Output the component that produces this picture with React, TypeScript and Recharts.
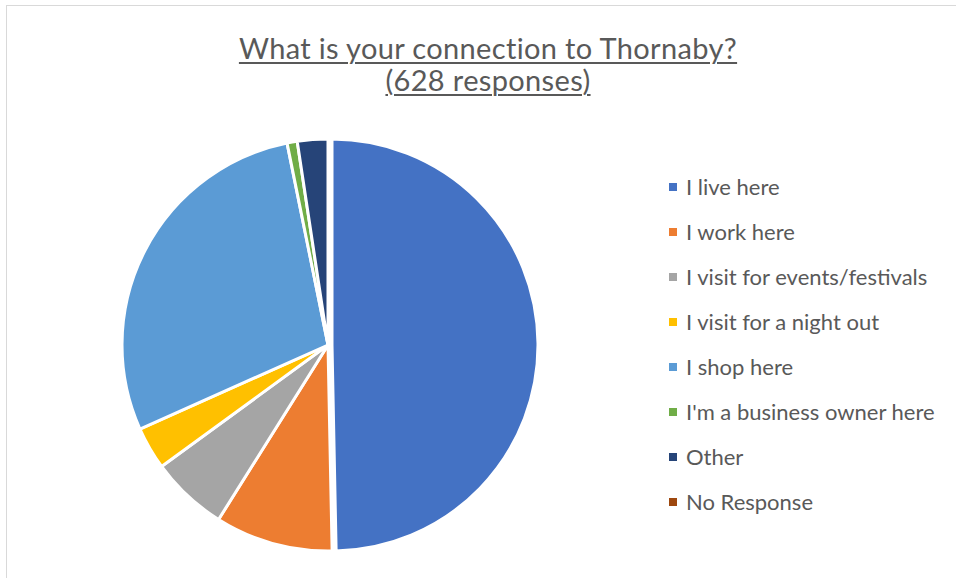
import React from "react";
import { PieChart, Pie, Cell, Legend } from "recharts";

const categories = [
  "I live here",
  "I work here",
  "I visit for events/festivals",
  "I visit for a night out",
  "I shop here",
  "I'm a business owner here",
  "Other",
  "No Response",
];
const responses = [312, 58, 38, 21, 179, 5, 15, 0];
const colors = [
  "#4472C4",
  "#ED7D31",
  "#A5A5A5",
  "#FFC000",
  "#5B9BD5",
  "#70AD47",
  "#264478",
  "#9E480E",
];
const titleLines = ["What is your connection to Thornaby?", "(628 responses)"];

const data = categories.map((name, i) => ({ name, value: responses[i] }));

const FONT = "Lato, 'Open Sans', sans-serif";
const TEXT = "#595959";

const LegendList = () => (
  <div style={{ fontFamily: FONT, fontSize: 22, color: TEXT }}>
    {categories.map((name, i) => (
      <div
        key={name}
        style={{ height: 45, display: "flex", alignItems: "center" }}
      >
        <span
          style={{
            width: 8,
            height: 8,
            background: colors[i],
            marginRight: 9,
            display: "inline-block",
          }}
        />
        <span>{name}</span>
      </div>
    ))}
  </div>
);

export default function App() {
  return (
    <div
      style={{
        position: "absolute",
        left: 0,
        top: 0,
        width: 956,
        height: 578,
        background: "#fff",
        overflow: "hidden",
      }}
    >
      <div
        style={{
          position: "absolute",
          left: 6,
          top: 5,
          width: 960,
          height: 600,
          borderLeft: "1.5px solid #d9d9d9",
          borderTop: "1.5px solid #d9d9d9",
        }}
      />
      {titleLines.map((line, i) => (
        <div
          key={line}
          style={{
            position: "absolute",
            left: 0,
            width: 976,
            top: 34 + i * 32,
            height: 27,
            textAlign: "center",
            fontFamily: FONT,
            fontSize: 29,
            letterSpacing: 0.35,
            lineHeight: "27px",
            color: TEXT,
            textDecoration: "underline",
            textDecorationThickness: 1.5,
            textUnderlineOffset: 3,
          }}
        >
          {line}
        </div>
      ))}
      <PieChart
        width={956}
        height={578}
        margin={{ top: 0, right: 0, bottom: 0, left: 0 }}
        style={{ position: "absolute", left: 0, top: 0 }}
      >
        {/* everything but the first slice */}
        <Pie
          data={data}
          dataKey="value"
          nameKey="name"
          cx={328}
          cy={345}
          outerRadius={206}
          startAngle={90}
          endAngle={-270}
          stroke="#fff"
          strokeWidth={3}
          isAnimationActive={false}
        >
          {data.map((d, i) => (
            <Cell
              key={d.name}
              fill={i === 0 ? "none" : colors[i]}
              stroke={i === 0 ? "none" : "#fff"}
            />
          ))}
        </Pie>
        {/* first slice, pulled out slightly */}
        <Pie
          data={data}
          dataKey="value"
          nameKey="name"
          cx={332}
          cy={345}
          outerRadius={206}
          startAngle={90}
          endAngle={-270}
          strokeWidth={3}
          isAnimationActive={false}
        >
          {data.map((d, i) => (
            <Cell
              key={d.name}
              fill={i === 0 ? colors[0] : "none"}
              stroke={i === 0 ? "#fff" : "none"}
            />
          ))}
        </Pie>
        <Legend
          content={<LegendList />}
          wrapperStyle={{ left: 669, top: 164, width: 290 }}
        />
      </PieChart>
    </div>
  );
}
